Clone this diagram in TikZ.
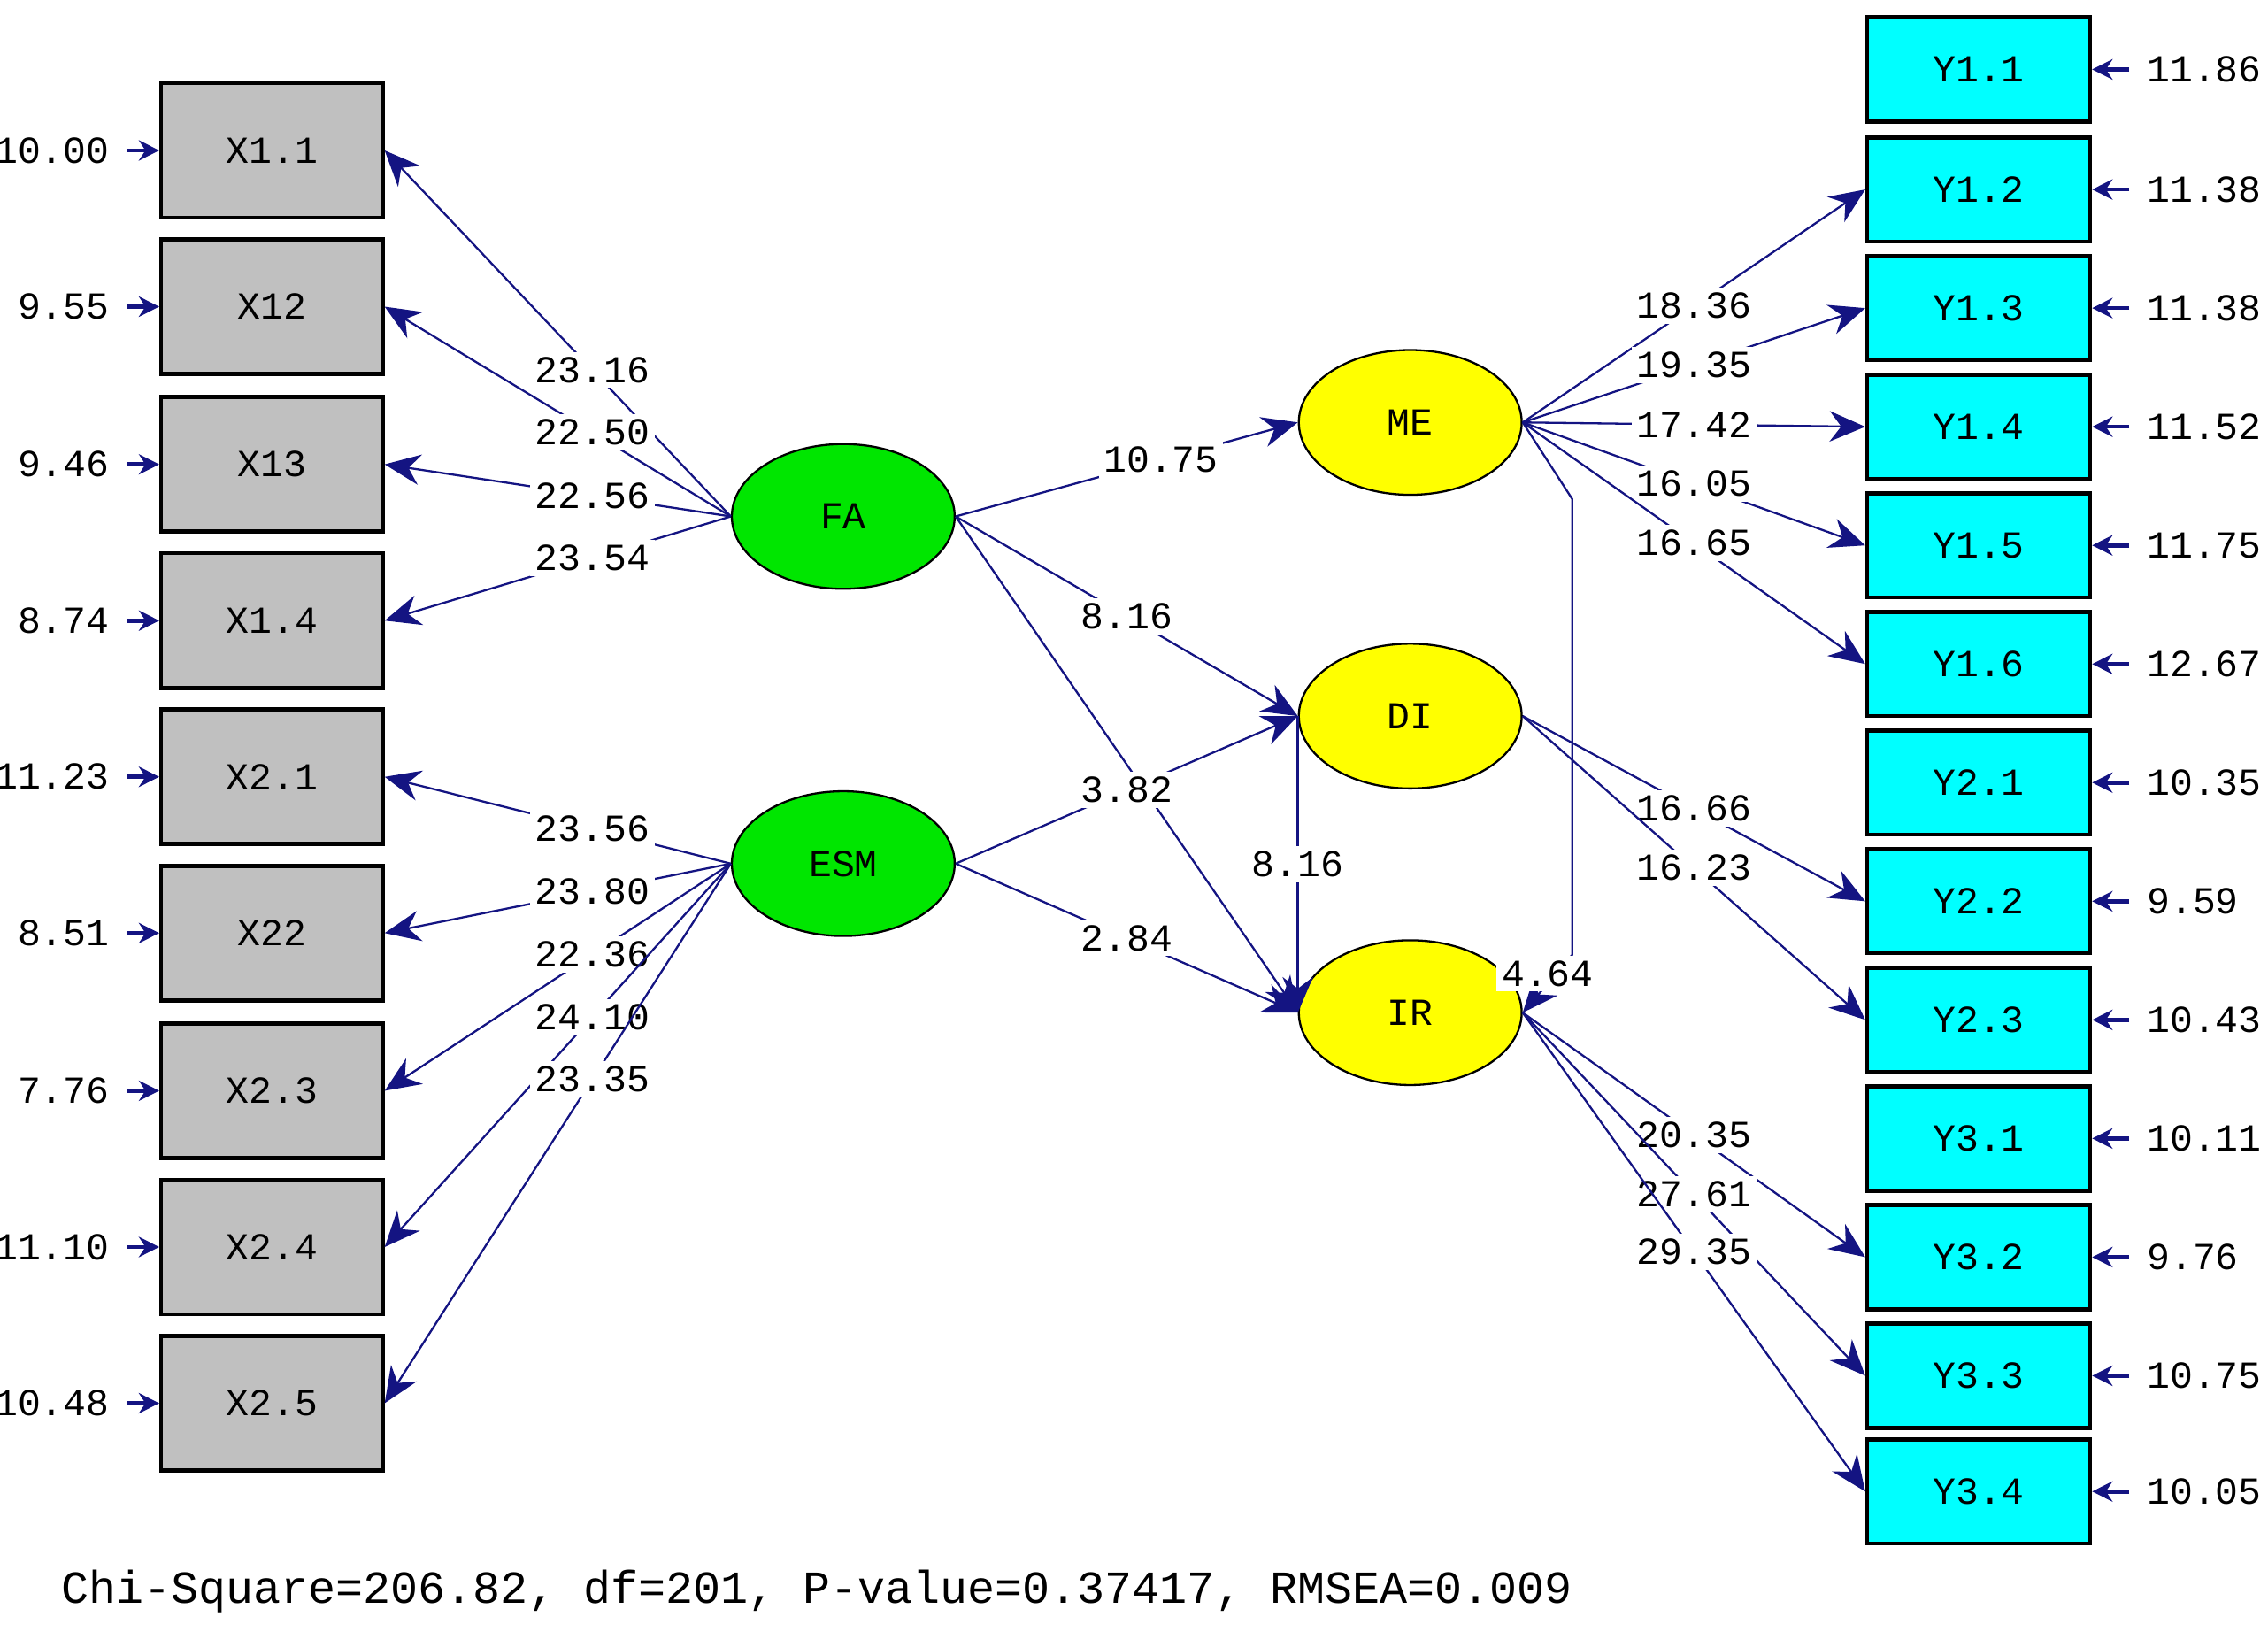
\documentclass[tikz,border=0pt]{standalone}
\usepackage{fontspec}
\setmainfont{Liberation Mono}
\usetikzlibrary{arrows.meta, shapes.geometric}

\definecolor{lnavy}{RGB}{20,20,130}
\definecolor{lgrey}{RGB}{192,192,192}
\definecolor{lcyan}{RGB}{0,255,255}
\definecolor{lgreen}{RGB}{0,230,0}
\definecolor{lyellow}{RGB}{255,255,0}

\tikzset{
	obsx/.style={draw, thick, fill=lgrey, minimum width=1.53cm, minimum height=0.93cm, inner sep=0pt},
	obsy/.style={draw, thick, fill=lcyan, minimum width=1.54cm, minimum height=0.72cm, inner sep=0pt},
	latx/.style={draw, ellipse, fill=#1, minimum width=1.54cm, minimum height=1.0cm, inner sep=0pt},
	lpath/.style={draw=lnavy, -{Stealth[length=7pt,width=6pt]}},
	est/.style={fill=white, inner sep=1pt},
	err/.style={draw=lnavy, thick, -{Stealth[length=4pt,width=4pt]}}
}

\begin{document}
\begin{tikzpicture}[x=0.01cm, y=-0.01cm, font=\fontsize{7.5}{9}\selectfont]
					\useasboundingbox (0,0) rectangle (1568,1128);

					% observed x
					\foreach \n/\t/\y/\e in {a/X1.1/104/10.00, b/X12/212/9.55, c/X13/321/9.46, d/X1.4/429/8.74,
						e/X2.1/537/11.23, f/X22/645/8.51, g/X2.3/754/7.76, h/X2.4/862/11.10, i/X2.5/970/10.48}
					{
						\node[obsx] (x\n) at (188,\y) {\t};
						\node[anchor=east] (ex\n) at (88,\y) {\e};
						\draw[err] (ex\n.east) -- (xa.west |- ex\n.east);
					}

					% observed y
					\foreach \n/\t/\y/\e in {a/Y1.1/48/11.86, b/Y1.2/131/11.38, c/Y1.3/213/11.38, d/Y1.4/295/11.52,
						e/Y1.5/377/11.75, f/Y1.6/459/12.67, g/Y2.1/541/10.35, h/Y2.2/623/9.59, i/Y2.3/705/10.43,
						j/Y3.1/787/10.11, k/Y3.2/869/9.76, l/Y3.3/951/10.75, m/Y3.4/1031/10.05}
					{
						\node[obsy] (y\n) at (1368,\y) {\t};
						\node[anchor=west] (ey\n) at (1472,\y) {\e};
						\draw[err] (ey\n.west) -- (ya.east |- ey\n.west);
					}

					% latent
					\node[latx=lgreen] (FA) at (583,357) {FA};
					\node[latx=lgreen] (ESM) at (583,597) {ESM};
					\node[latx=lyellow] (ME) at (975,292) {ME};
					\node[latx=lyellow] (DI) at (975,495) {DI};
					\node[latx=lyellow] (IR) at (975,700) {IR};

					% FA loadings
					\foreach \n/\v in {a/23.16, b/22.50, c/22.56, d/23.54}
						\draw[lpath] (FA.west) -- node[est, pos=0.4] {\v} (x\n.east);

					% ESM loadings
					\foreach \n/\v in {e/23.56, f/23.80, g/22.36, h/24.10, i/23.35}
						\draw[lpath] (ESM.west) -- node[est, pos=0.4] {\v} (x\n.east);

					% structural paths
					\draw[lpath] (FA.east) -- node[est, pos=0.6] {10.75} (ME.west);
					\draw[lpath] (FA.east) -- node[est, pos=0.5] {8.16} (DI.west);
					\draw[lpath] (FA.east) -- (IR.west);
					\draw[lpath] (ESM.east) -- node[est, pos=0.5] {3.82} (DI.west);
					\draw[lpath] (ESM.east) -- node[est, pos=0.5] {2.84} (IR.west);
					\draw[lpath] (DI.west) -- node[est, pos=0.5] {8.16} (IR.west);
					\draw[lpath] (ME.east) -- (1087,345) -- (1087,660) -- (IR.east);
					\node[est] (lme) at (1070,673) {4.64};

					% y loadings
					\foreach \n/\v in {b/18.36, c/19.35, d/17.42, e/16.05, f/16.65}
						\draw[lpath] (ME.east) -- node[est, pos=0.5] {\v} (y\n.west);
					\foreach \n/\v in {h/16.66, i/16.23}
						\draw[lpath] (DI.east) -- node[est, pos=0.5] {\v} (y\n.west);
					\foreach \n/\v in {k/20.35, l/27.61, m/29.35}
						\draw[lpath] (IR.east) -- node[est, pos=0.5] {\v} (y\n.west);

					\node[anchor=west, font=\fontsize{9}{11}\selectfont] (fit) at (30,1100)
						{Chi-Square=206.82, df=201, P-value=0.37417, RMSEA=0.009};
				\end{tikzpicture}
\end{document}
